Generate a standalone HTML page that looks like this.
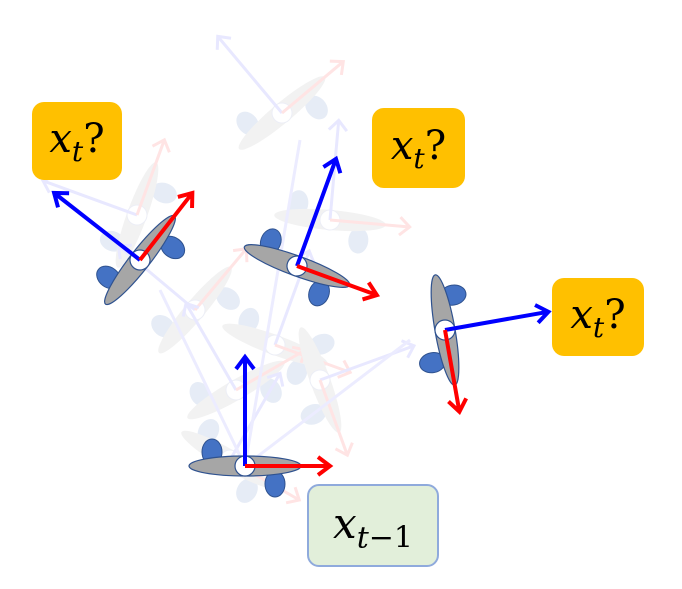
<!DOCTYPE html>
<html><head><style>
html,body{margin:0;padding:0;background:#fff;width:682px;height:589px;overflow:hidden}
.box{position:absolute;border-radius:12px;font-family:"DejaVu Serif","Liberation Serif",serif;font-style:italic;color:#000}
.box span.q{font-style:normal}
</style></head><body>
<svg width="682" height="589" style="position:absolute;left:0;top:0">
<defs>
<g id="pl">
  <ellipse cx="-33" cy="-14" rx="10" ry="13" fill="#4472C4" stroke="#2F528F" stroke-width="1"/>
  <ellipse cx="30" cy="18" rx="10" ry="13" fill="#4472C4" stroke="#2F528F" stroke-width="1"/>
  <ellipse cx="0" cy="0" rx="56" ry="10" fill="#A6A6A6" stroke="#2F528F" stroke-width="1.2"/>
  <circle cx="0" cy="0" r="10" fill="#fff" stroke="#2F528F" stroke-width="1.2"/>
</g>
<g id="gp">
  <ellipse cx="-33" cy="-14" rx="10" ry="13" fill="#e6ecf6"/>
  <ellipse cx="30" cy="18" rx="10" ry="13" fill="#e6ecf6"/>
  <ellipse cx="0" cy="0" rx="56" ry="10" fill="#f2f2f2"/>
  <circle cx="0" cy="0" r="10" fill="#fff" stroke="#eceef6"/>
  <path d="M0 0V-100M-9 -90L0 -100L9 -90" stroke="#e8e8ff" stroke-width="3" fill="none"/>
  <path d="M0 0H80M70 -9L80 0L70 9" stroke="#ffe4e4" stroke-width="3" fill="none"/>
</g>
</defs>
<use href="#gp" transform="translate(282,113) rotate(-40)"/>
<use href="#gp" transform="translate(137,215) rotate(-70)"/>
<use href="#gp" transform="translate(330,220) rotate(5)"/>
<use href="#gp" transform="translate(195,310) rotate(-50)"/>
<use href="#gp" transform="translate(275,345) rotate(20)"/>
<use href="#gp" transform="translate(236,390) rotate(-30)"/>
<use href="#gp" transform="translate(320,380) rotate(70)"/>
<use href="#gp" transform="translate(230,460) rotate(30)"/>
<path d="M245 466L410 340M245 466L300 140M245 466L160 290" stroke="#ececff" stroke-width="3" fill="none"/>
<g transform="translate(245,466)">
 <use href="#pl"/>
 <path d="M0 0V-108M-9 -97L0 -109L9 -97" stroke="#0000FF" stroke-width="4" fill="none"/>
 <path d="M0 0H84M73 -9L85 0L73 9" stroke="#FF0000" stroke-width="4" fill="none"/>
</g>
<g transform="translate(140,260) rotate(-52)">
 <use href="#pl"/>
 <path d="M0 0V-108M-9 -97L0 -109L9 -97" stroke="#0000FF" stroke-width="4" fill="none"/>
 <path d="M0 0H84M73 -9L85 0L73 9" stroke="#FF0000" stroke-width="4" fill="none"/>
</g>
<g transform="translate(297,266) rotate(20)">
 <use href="#pl"/>
 <path d="M0 0V-113M-9 -102L0 -114L9 -102" stroke="#0000FF" stroke-width="4" fill="none"/>
 <path d="M0 0H84M73 -9L85 0L73 9" stroke="#FF0000" stroke-width="4" fill="none"/>
</g>
<g transform="translate(445,330) rotate(80)">
 <use href="#pl"/>
 <path d="M0 0V-104M-9 -93L0 -105L9 -93" stroke="#0000FF" stroke-width="4" fill="none"/>
 <path d="M0 0H82M71 -9L83 0L71 9" stroke="#FF0000" stroke-width="4" fill="none"/>
</g>
</svg>
<div class="box" style="left:32px;top:102px;width:90px;height:78px;background:#FFC000;font-size:40px;line-height:74px;text-align:center">x<sub style="font-size:28px">t</sub><span class="q">?</span></div>
<div class="box" style="left:372px;top:108px;width:93px;height:80px;background:#FFC000;font-size:40px;line-height:76px;text-align:center">x<sub style="font-size:28px">t</sub><span class="q">?</span></div>
<div class="box" style="left:552px;top:278px;width:92px;height:78px;background:#FFC000;font-size:40px;line-height:74px;text-align:center">x<sub style="font-size:28px">t</sub><span class="q">?</span></div>
<div class="box" style="left:307px;top:484px;width:128px;height:79px;background:#E2EFDA;border:2px solid #8FAADC;font-size:42px;line-height:76px;text-align:center">x<sub style="font-size:30px">t<span class="q">−1</span></sub></div>
</body></html>
